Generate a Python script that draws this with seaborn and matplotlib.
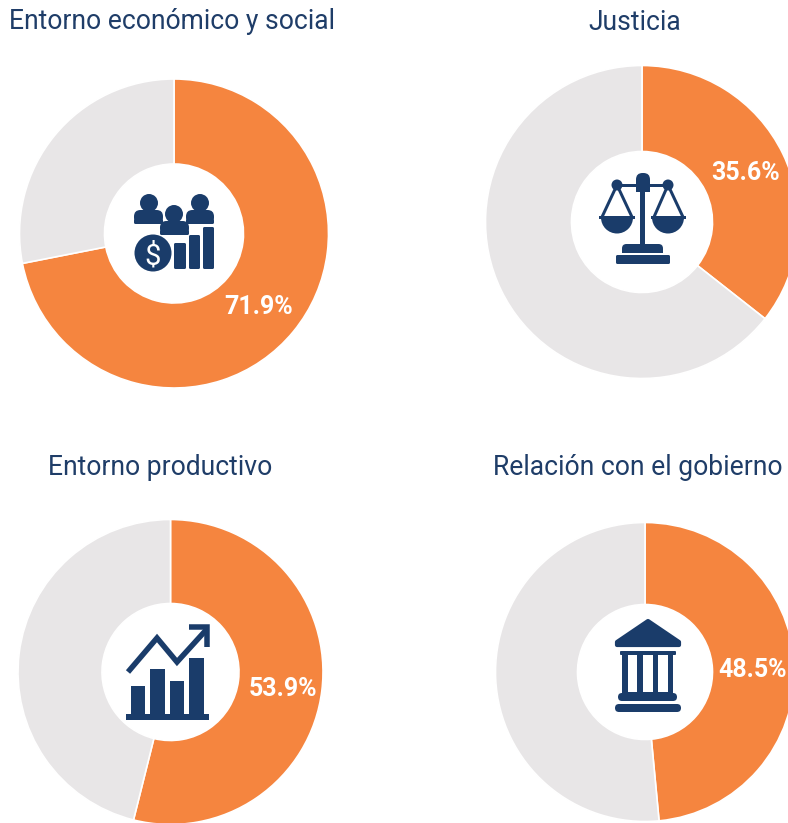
import matplotlib
matplotlib.use("Agg")
import matplotlib.pyplot as plt
from matplotlib.patches import Circle, FancyBboxPatch, Polygon, Rectangle, Wedge
import seaborn as sns

sns.set_theme(style="white")
plt.rcParams["font.family"] = ["Roboto", "DejaVu Sans"]

# Data
titles = ["Entorno económico y social", "Justicia", "Entorno productivo", "Relación con el gobierno"]
values = [71.9, 35.6, 53.9, 48.5]

NAVY = "#1A3C6A"
TITLE_COLOR = "#1F3D68"
colors = sns.color_palette(["#F5853F", "#E8E6E7"])

# Layout, in reference pixels
W, H = 788, 823
centers = [(174, 233.5), (642, 222), (170.5, 672), (645, 672)]
radii = [154.5, 156.5, 152.5, 149.5]
holes = [69.5, 70.5, 68.5, 67.5]
title_pos = [(172, 21), (635, 22), (160, 467), (638, 467)]
label_pos = [(259, 307), (746, 173), (283, 689), (753, 670)]

fig = plt.figure(figsize=(W / 100, H / 100), dpi=100)
ax = fig.add_axes([0, 0, 1, 1])


def flip(y):
    return H - y


def box(x0, y0, x1, y1, r=2, color=NAVY):
    pad = min(r, (x1 - x0) / 2, (y1 - y0) / 2)
    ax.add_patch(FancyBboxPatch((x0 + pad, flip(y1) + pad), x1 - x0 - 2 * pad, y1 - y0 - 2 * pad,
                                boxstyle=f"round,pad={pad}", fc=color, ec="none", zorder=5))


def rect(x0, y0, x1, y1, color=NAVY):
    ax.add_patch(Rectangle((x0, flip(y1)), x1 - x0, y1 - y0, fc=color, ec="none", zorder=5))


def dot(x, y, r, color=NAVY):
    ax.add_patch(Circle((x, flip(y)), r, fc=color, ec="none", zorder=5))


def line(pts, lw=2.5, join="miter", cap="butt"):
    ax.plot([p[0] for p in pts], [flip(p[1]) for p in pts], color=NAVY, lw=lw * 0.72,
            solid_joinstyle=join, solid_capstyle=cap, zorder=5)


def people_icon():
    for hx, hy, x0, y0, x1, y1 in [(149, 203, 134, 210, 163, 224),
                                   (200, 203, 186, 210, 214, 224),
                                   (174, 214, 160, 221, 189, 235)]:
        box(x0, y0, x1, y1, r=6.5)
        box(x0, y1 - 5, x1, y1, r=1.5)
        dot(hx, hy, 9)
    dot(153, 253, 18.5)
    ax.text(153, flip(253), "$", color="white", fontsize=21, ha="center", va="center_baseline",
            fontweight="normal", zorder=6)
    box(174, 243, 186, 269, r=1.5)
    box(189, 235, 200, 269, r=1.5)
    box(203, 227, 214, 269, r=1.5)


def scale_icon():
    line([(617, 185), (668, 185)], lw=3)
    rect(640, 185, 645, 246)
    box(636, 173, 650, 192, r=6.5)
    rect(636, 184, 650, 192)
    for bx, x0, x1 in [(617, 599, 635), (668, 651, 686)]:
        dot(bx, 185, 5.5)
        line([(x0 + 3, 217), (bx, 185), (x1 - 3, 217)], lw=3)
        rect(x0, 216, x1, 218.5)
        ax.add_patch(Wedge((bx, flip(217.5)), 16, 180, 360, fc=NAVY, ec="none", zorder=5))
    box(622, 244, 663, 253, r=4.5)
    rect(622, 249, 663, 253)
    box(616, 255, 670, 264, r=1.5)


def growth_icon():
    rect(126, 714, 209, 720)
    rect(131, 686, 145, 714)
    rect(150, 669, 165, 714)
    rect(170, 681, 184, 714)
    rect(189, 658, 204, 714)
    line([(128, 672), (157, 638), (177, 662), (207, 629)], lw=5.5)
    line([(189, 627), (207, 627), (207, 647)], lw=5.5)


def bank_icon():
    ax.add_patch(Polygon([(648, flip(621)), (679, flip(642)), (679, flip(645)),
                          (617, flip(645)), (617, flip(642))], closed=True, fc=NAVY,
                         ec=NAVY, lw=3, joinstyle="round", zorder=5))
    box(620, 651, 676, 655, r=1)
    rect(622, 655, 673, 693)
    for x0, x1 in [(628, 637), (643, 653), (658, 668)]:
        rect(x0, 655, x1, 692, color="white")
    box(618, 693, 677, 701, r=4)
    box(615, 704, 681, 712, r=4)


icons = [people_icon, scale_icon, growth_icon, bank_icon]

for i, value in enumerate(values):
    cx, cy = centers[i]
    ax.pie([value, 100 - value], colors=colors, startangle=90, counterclock=False,
           center=(cx, flip(cy)), radius=radii[i], frame=True,
           wedgeprops={"width": radii[i] - holes[i], "edgecolor": "white", "linewidth": 1.2})
    ax.text(label_pos[i][0], flip(label_pos[i][1]), f"{value}%", color="white", fontsize=18,
            fontweight="bold", ha="center", va="center", zorder=6)
    ax.text(title_pos[i][0], flip(title_pos[i][1]), titles[i], color=TITLE_COLOR, fontsize=19.1,
            ha="center", va="center", zorder=6)
    icons[i]()

ax.set_xlim(0, W)
ax.set_ylim(0, H)
ax.set_aspect("equal")
ax.axis("off")

fig.savefig("out.png", dpi=100, facecolor="white")
plt.close(fig)
